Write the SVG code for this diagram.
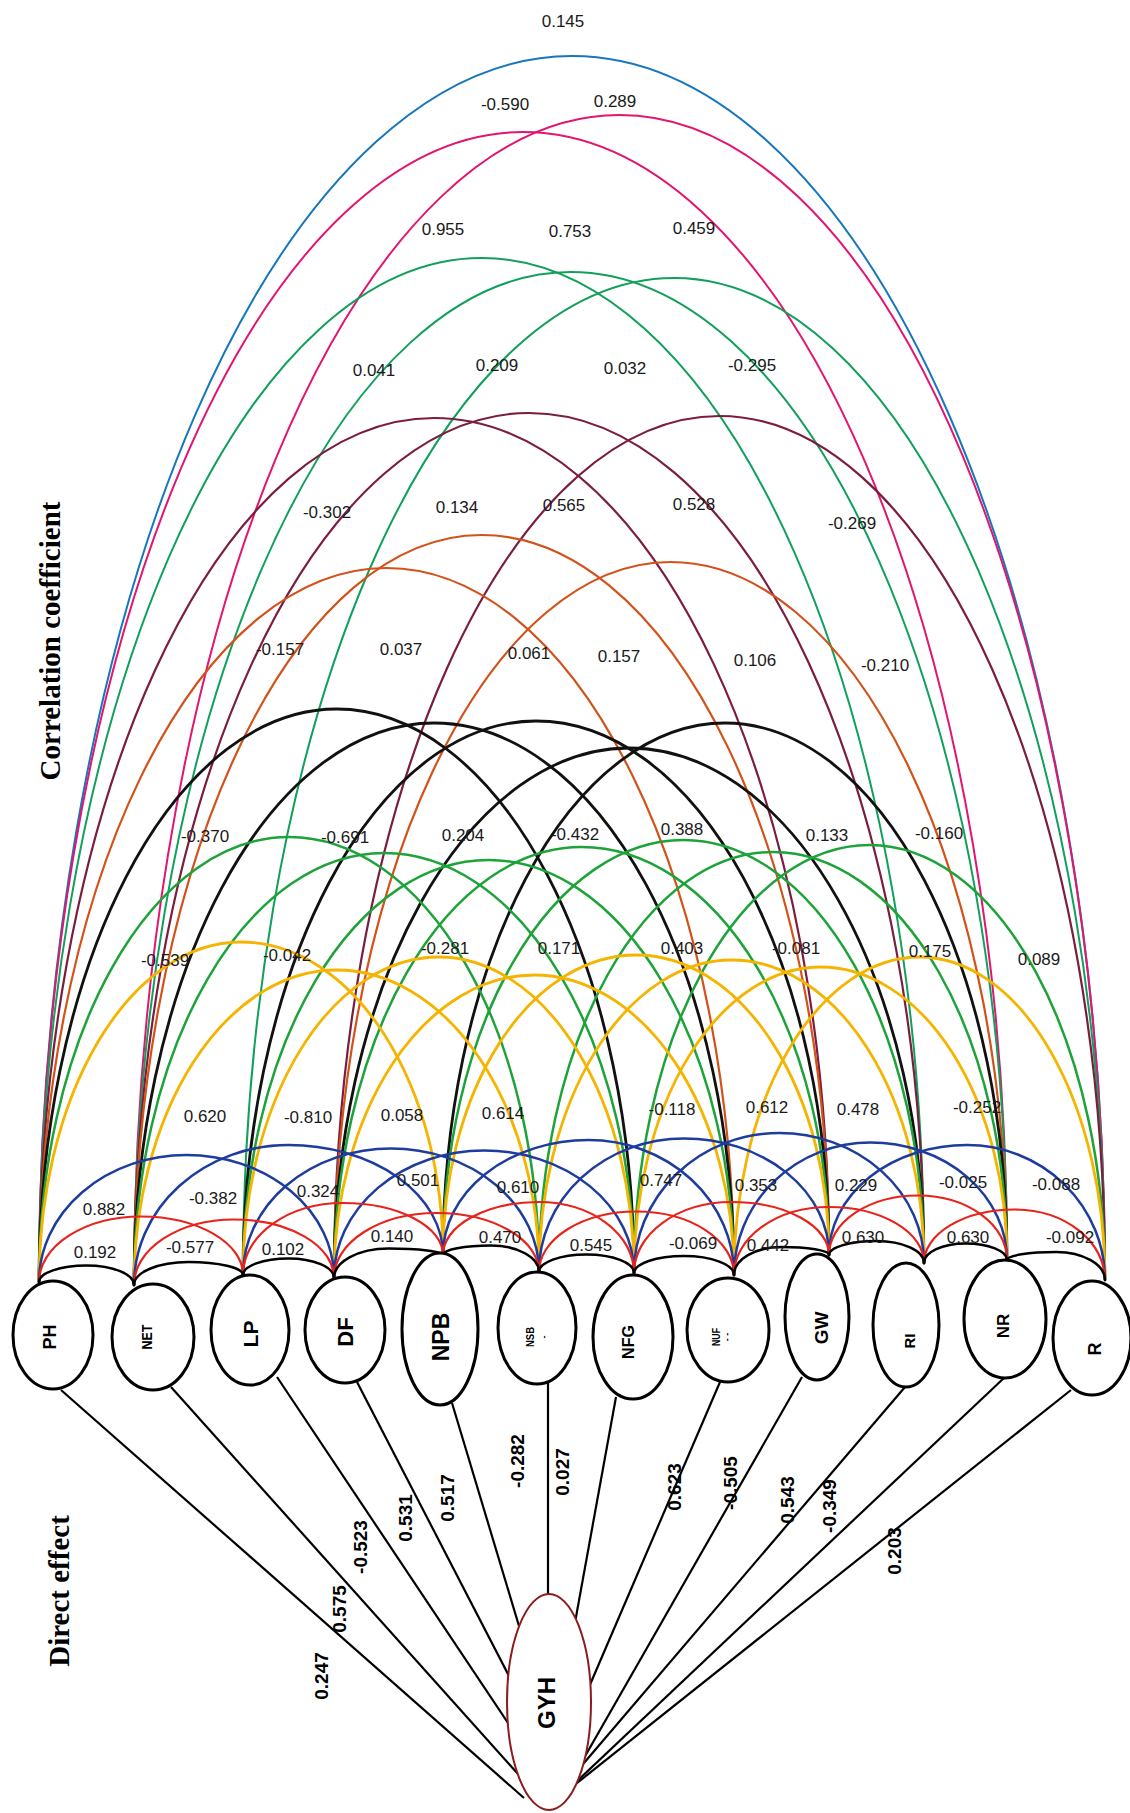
<svg xmlns="http://www.w3.org/2000/svg" width="1130" height="1813" viewBox="0 0 1130 1813">
  <style>
    .arc { fill: none; stroke-linecap: round; }
    .s1 { stroke: #000000; stroke-width: 2.5; }
    .s2 { stroke: #E8231B; stroke-width: 2.2; }
    .s3 { stroke: #1D3C9E; stroke-width: 2.5; }
    .s4 { stroke: #F4B400; stroke-width: 2.8; }
    .s5 { stroke: #1DA339; stroke-width: 2.5; }
    .s6 { stroke: #111111; stroke-width: 2.8; }
    .s7 { stroke: #D2521B; stroke-width: 2.2; }
    .s8 { stroke: #7B1E3E; stroke-width: 2.2; }
    .s9 { stroke: #11A05C; stroke-width: 2; }
    .s10 { stroke: #E2156F; stroke-width: 2; }
    .s11 { stroke: #1677BD; stroke-width: 2; }
    .direct { stroke: #000000; stroke-width: 2.2; fill: none; }
    .node { fill: #ffffff; stroke: #000000; stroke-width: 3; }
    .target { fill: #ffffff; stroke: #8B1C1C; stroke-width: 2; }
    .nl { font-family: "Liberation Sans", Arial, sans-serif; font-weight: bold; fill: #000; text-anchor: middle; dominant-baseline: central; }
    .cc { font-family: "Liberation Sans", Arial, sans-serif; font-size: 17px; fill: #1a1a1a; text-anchor: middle; dominant-baseline: central; }
    .de { font-family: "Liberation Sans", Arial, sans-serif; font-size: 19px; font-weight: bold; fill: #000; text-anchor: middle; dominant-baseline: central; }
    .axis { font-family: "Liberation Serif", "Times New Roman", serif; font-size: 29px; font-weight: bold; fill: #000; text-anchor: middle; dominant-baseline: central; }
  </style>

  <!-- correlation arcs between traits, grouped by distance between nodes -->
  <g id="connectors">
    <g id="arcs-span11" class="arc s11">
      <path d="M39 1282A533 1226 0 0 1 572 56A533 1224 0 0 1 1105 1280"/>
    </g>
    <g id="arcs-span10" class="arc s10">
      <path d="M39 1282A484 1150 0 0 1 523 132A484 1128 0 0 1 1007 1260"/>
      <path d="M134 1285A485.5 1170 0 0 1 619.5 115A485.5 1165 0 0 1 1105 1280"/>
    </g>
    <g id="arcs-span9" class="arc s9">
      <path d="M39 1282A442.5 1024 0 0 1 481.5 258A442.5 1005 0 0 1 924 1263"/>
      <path d="M134 1285A436.5 1013 0 0 1 570.5 272A436.5 988 0 0 1 1007 1260"/>
      <path d="M243 1275A431 997 0 0 1 674 278A431 1002 0 0 1 1105 1280"/>
    </g>
    <g id="arcs-span8" class="arc s8">
      <path d="M39 1282A395 864 0 0 1 434 418A395 837 0 0 1 829 1255"/>
      <path d="M134 1285A395 872 0 0 1 529 413A395 850 0 0 1 924 1263"/>
      <path d="M334 1278A385.5 862 0 0 1 719.5 416A385.5 864 0 0 1 1105 1280"/>
    </g>
    <g id="arcs-span7" class="arc s7">
      <path d="M39 1282A347.5 714 0 0 1 386.5 568A347.5 707 0 0 1 734 1275"/>
      <path d="M134 1285A347.5 750 0 0 1 481.5 535A347.5 720 0 0 1 829 1255"/>
      <path d="M334 1278A336.5 716 0 0 1 670.5 562A336.5 698 0 0 1 1007 1260"/>
    </g>
    <g id="arcs-span6" class="arc s6">
      <path d="M39 1282A297.5 573 0 0 1 336.5 709A297.5 564 0 0 1 634 1273"/>
      <path d="M134 1285A300 562 0 0 1 434 723A300 552 0 0 1 734 1275"/>
      <path d="M243 1275A293 554 0 0 1 536 721A293 534 0 0 1 829 1255"/>
      <path d="M334 1278A295 530 0 0 1 629 748A295 515 0 0 1 924 1263"/>
      <path d="M443 1255A282 532 0 0 1 725 723A282 537 0 0 1 1007 1260"/>
    </g>
    <g id="arcs-span5" class="arc s5">
      <path d="M39 1282A250 445 0 0 1 289 837A250 435 0 0 1 539 1272"/>
      <path d="M134 1285A250 432 0 0 1 384 853A250 420 0 0 1 634 1273"/>
      <path d="M243 1275A245.5 415 0 0 1 488.5 860A245.5 415 0 0 1 734 1275"/>
      <path d="M334 1278A247.5 431 0 0 1 581.5 847A247.5 408 0 0 1 829 1255"/>
      <path d="M443 1255A240.5 415 0 0 1 683.5 840A240.5 423 0 0 1 924 1263"/>
      <path d="M539 1272A234 420 0 0 1 773 852A234 408 0 0 1 1007 1260"/>
      <path d="M634 1273A235.5 428 0 0 1 869.5 845A235.5 435 0 0 1 1105 1280"/>
    </g>
    <g id="arcs-span4" class="arc s4">
      <path d="M39 1282A202 340 0 0 1 241 942A202 313 0 0 1 443 1255"/>
      <path d="M134 1285A202.5 315 0 0 1 336.5 970A202.5 302 0 0 1 539 1272"/>
      <path d="M243 1275A195.5 318 0 0 1 438.5 957A195.5 316 0 0 1 634 1273"/>
      <path d="M334 1278A200 303 0 0 1 534 975A200 300 0 0 1 734 1275"/>
      <path d="M443 1255A193 300 0 0 1 636 955A193 300 0 0 1 829 1255"/>
      <path d="M539 1272A192.5 312 0 0 1 731.5 960A192.5 303 0 0 1 924 1263"/>
      <path d="M634 1273A186.5 306 0 0 1 820.5 967A186.5 293 0 0 1 1007 1260"/>
      <path d="M734 1275A185.5 318 0 0 1 919.5 957A185.5 323 0 0 1 1105 1280"/>
    </g>
    <g id="arcs-span3" class="arc s3">
      <path d="M39 1282A147.5 127 0 0 1 186.5 1155A147.5 123 0 0 1 334 1278"/>
      <path d="M134 1285A154.5 140 0 0 1 288.5 1145A154.5 110 0 0 1 443 1255"/>
      <path d="M243 1275A148 126.5 0 0 1 391 1148.5A148 123.5 0 0 1 539 1272"/>
      <path d="M334 1278A150 127.5 0 0 1 484 1150.5A150 122.5 0 0 1 634 1273"/>
      <path d="M443 1255A145.5 115 0 0 1 588.5 1140A145.5 135 0 0 1 734 1275"/>
      <path d="M539 1272A145 133.5 0 0 1 684 1138.5A145 116.5 0 0 1 829 1255"/>
      <path d="M634 1273A145 140 0 0 1 779 1133A145 130 0 0 1 924 1263"/>
      <path d="M734 1275A136.5 132.5 0 0 1 870.5 1142.5A136.5 117.5 0 0 1 1007 1260"/>
      <path d="M829 1255A138 110 0 0 1 967 1145A138 135 0 0 1 1105 1280"/>
    </g>
    <g id="arcs-span2" class="arc s2">
      <path d="M39 1282A102 65.5 0 0 1 141 1216.5A102 58.5 0 0 1 243 1275"/>
      <path d="M134 1285A100 65.5 0 0 1 234 1219.5A100 58.5 0 0 1 334 1278"/>
      <path d="M243 1275A100 72 0 0 1 343 1203A100 52 0 0 1 443 1255"/>
      <path d="M334 1278A102.5 65 0 0 1 436.5 1213A102.5 59 0 0 1 539 1272"/>
      <path d="M443 1255A95.5 53 0 0 1 538.5 1202A95.5 71 0 0 1 634 1273"/>
      <path d="M539 1272A97.5 60.5 0 0 1 636.5 1211.5A97.5 63.5 0 0 1 734 1275"/>
      <path d="M634 1273A97.5 71 0 0 1 731.5 1202A97.5 53 0 0 1 829 1255"/>
      <path d="M734 1275A95 68 0 0 1 829 1207A95 56 0 0 1 924 1263"/>
      <path d="M829 1255A89 59.5 0 0 1 918 1195.5A89 64.5 0 0 1 1007 1260"/>
      <path d="M924 1263A90.5 53.5 0 0 1 1014.5 1209.5A90.5 70.5 0 0 1 1105 1280"/>
    </g>
    <g id="arcs-span1" class="arc s1">
      <path d="M39 1282A47.5 16.5 0 0 1 86.5 1265.5A47.5 19.5 0 0 1 134 1285"/>
      <path d="M134 1285A54.5 23 0 0 1 188.5 1262A54.5 13 0 0 1 243 1275"/>
      <path d="M243 1275A45.5 16.5 0 0 1 288.5 1258.5A45.5 19.5 0 0 1 334 1278"/>
      <path d="M334 1278A54.5 29.5 0 0 1 388.5 1248.5A54.5 6.5 0 0 1 443 1255"/>
      <path d="M443 1255A48 9.5 0 0 1 491 1245.5A48 26.5 0 0 1 539 1272"/>
      <path d="M539 1272A47.5 17.5 0 0 1 586.5 1254.5A47.5 18.5 0 0 1 634 1273"/>
      <path d="M634 1273A50 17 0 0 1 684 1256A50 19 0 0 1 734 1275"/>
      <path d="M734 1275A47.5 28 0 0 1 781.5 1247A47.5 8 0 0 1 829 1255"/>
      <path d="M829 1255A47.5 14 0 0 1 876.5 1241A47.5 22 0 0 1 924 1263"/>
      <path d="M924 1263A41.5 19.5 0 0 1 965.5 1243.5A41.5 16.5 0 0 1 1007 1260"/>
      <path d="M1007 1260A49 8 0 0 1 1056 1252A49 28 0 0 1 1105 1280"/>
    </g>
    <!-- direct paths from each trait to grain yield (ends tucked under the GYH ellipse) -->
    <g id="direct-paths" class="direct">
      <line x1="61" y1="1390" x2="524" y2="1798"/>
      <line x1="171" y1="1387" x2="518" y2="1774"/>
      <line x1="277" y1="1377" x2="510" y2="1726"/>
      <line x1="357" y1="1382" x2="510" y2="1678"/>
      <line x1="452" y1="1403" x2="519" y2="1626"/>
      <line x1="548" y1="1383" x2="548" y2="1600"/>
      <line x1="616" y1="1397" x2="574" y2="1628"/>
      <line x1="720" y1="1382" x2="586" y2="1694"/>
      <line x1="802" y1="1377" x2="584" y2="1758"/>
      <line x1="905" y1="1387" x2="578" y2="1770"/>
      <line x1="1004" y1="1378" x2="574" y2="1784"/>
      <line x1="1071" y1="1390" x2="572" y2="1787"/>
    </g>
  </g>

  <!-- correlation coefficient values, one row per arc level -->
  <g id="correlation-labels" class="cc">
    <text x="563" y="21">0.145</text>
    <text x="505" y="104">-0.590</text>
    <text x="615" y="101">0.289</text>
    <text x="443" y="229">0.955</text>
    <text x="570" y="231">0.753</text>
    <text x="694" y="228">0.459</text>
    <text x="374" y="370">0.041</text>
    <text x="497" y="365">0.209</text>
    <text x="625" y="368">0.032</text>
    <text x="752" y="365">-0.295</text>
    <text x="327" y="512">-0.302</text>
    <text x="457" y="507">0.134</text>
    <text x="564" y="505">0.565</text>
    <text x="694" y="504">0.528</text>
    <text x="852" y="523">-0.269</text>
    <text x="280" y="649">-0.157</text>
    <text x="401" y="649">0.037</text>
    <text x="529" y="653">0.061</text>
    <text x="619" y="656">0.157</text>
    <text x="755" y="660">0.106</text>
    <text x="885" y="665">-0.210</text>
    <text x="205" y="836">-0.370</text>
    <text x="345" y="837">-0.691</text>
    <text x="463" y="835">0.204</text>
    <text x="575" y="834">-0.432</text>
    <text x="682" y="829">0.388</text>
    <text x="827" y="835">0.133</text>
    <text x="939" y="833">-0.160</text>
    <text x="165" y="960">-0.539</text>
    <text x="287" y="955">-0.042</text>
    <text x="445" y="948">-0.281</text>
    <text x="559" y="948">0.171</text>
    <text x="682" y="948">0.403</text>
    <text x="796" y="948">-0.081</text>
    <text x="930" y="951">0.175</text>
    <text x="1039" y="959">0.089</text>
    <text x="205" y="1116">0.620</text>
    <text x="308" y="1117">-0.810</text>
    <text x="402" y="1115">0.058</text>
    <text x="503" y="1113">0.614</text>
    <text x="672" y="1109">-0.118</text>
    <text x="767" y="1107">0.612</text>
    <text x="858" y="1109">0.478</text>
    <text x="977" y="1107">-0.252</text>
    <text x="104" y="1209">0.882</text>
    <text x="213" y="1198">-0.382</text>
    <text x="318" y="1191">0.324</text>
    <text x="418" y="1180">0.501</text>
    <text x="518" y="1187">0.610</text>
    <text x="661" y="1180">0.747</text>
    <text x="756" y="1185">0.353</text>
    <text x="856" y="1185">0.229</text>
    <text x="963" y="1182">-0.025</text>
    <text x="1056" y="1184">-0.088</text>
    <text x="95" y="1252">0.192</text>
    <text x="190" y="1247">-0.577</text>
    <text x="283" y="1249">0.102</text>
    <text x="392" y="1236">0.140</text>
    <text x="500" y="1237">0.470</text>
    <text x="591" y="1245">0.545</text>
    <text x="693" y="1243">-0.069</text>
    <text x="768" y="1245">0.442</text>
    <text x="863" y="1237">0.630</text>
    <text x="968" y="1237">0.630</text>
    <text x="1070" y="1237">-0.092</text>
  </g>

  <!-- direct effect values along the paths to GYH -->
  <g id="direct-labels" class="de">
    <text transform="translate(321 1676) rotate(-90)">0.247</text>
    <text transform="translate(339 1609) rotate(-90)">0.575</text>
    <text transform="translate(360 1547) rotate(-90)">-0.523</text>
    <text transform="translate(405 1518) rotate(-90)">0.531</text>
    <text transform="translate(447 1498) rotate(-90)">0.517</text>
    <text transform="translate(517 1461) rotate(-90)">-0.282</text>
    <text transform="translate(562 1472) rotate(-90)">0.027</text>
    <text transform="translate(674 1487) rotate(-90)">0.623</text>
    <text transform="translate(730 1483) rotate(-90)">-0.505</text>
    <text transform="translate(787 1500) rotate(-90)">0.543</text>
    <text transform="translate(829 1506) rotate(-90)">-0.349</text>
    <text transform="translate(894 1551) rotate(-90)">0.203</text>
  </g>

  <!-- trait nodes -->
  <g id="node-PH"><ellipse class="node" cx="53" cy="1335" rx="40" ry="54"/><text class="nl" font-size="18" transform="translate(50 1337) rotate(-90)">PH</text></g>
  <g id="node-NET"><ellipse class="node" cx="153" cy="1337" rx="41" ry="53"/><text class="nl" font-size="15" textLength="25" lengthAdjust="spacingAndGlyphs" transform="translate(146 1337) rotate(-90)">NET</text></g>
  <g id="node-LP"><ellipse class="node" cx="250" cy="1330" rx="39" ry="55"/><text class="nl" font-size="21" transform="translate(250 1334) rotate(-90)">LP</text></g>
  <g id="node-DF"><ellipse class="node" cx="345" cy="1330" rx="40" ry="53"/><text class="nl" font-size="22" transform="translate(345 1332) rotate(-90)">DF</text></g>
  <g id="node-NPB"><ellipse class="node" cx="440" cy="1329" rx="38" ry="76"/><text class="nl" font-size="23" transform="translate(441 1337) rotate(-90)">NPB</text></g>
  <g id="node-NSB"><ellipse class="node" cx="537" cy="1328" rx="39" ry="56"/><text class="nl" font-size="11" textLength="20" lengthAdjust="spacingAndGlyphs" transform="translate(530 1337) rotate(-90)">NSB</text><text class="nl" font-size="9" transform="translate(544 1337) rotate(-90)">-</text></g>
  <g id="node-NFG"><ellipse class="node" cx="633" cy="1337" rx="40" ry="62"/><text class="nl" font-size="16" transform="translate(628 1342) rotate(-90)">NFG</text></g>
  <g id="node-NUF"><ellipse class="node" cx="728" cy="1330" rx="41" ry="52"/><text class="nl" font-size="11" textLength="18" lengthAdjust="spacingAndGlyphs" transform="translate(716 1337) rotate(-90)">NUF</text><text class="nl" font-size="9" transform="translate(727 1337) rotate(-90)">- -</text></g>
  <g id="node-GW"><ellipse class="node" cx="817" cy="1317" rx="32" ry="63"/><text class="nl" font-size="19" transform="translate(821 1328) rotate(-90)">GW</text></g>
  <g id="node-RI"><ellipse class="node" cx="906" cy="1325" rx="33" ry="62"/><text class="nl" font-size="15" transform="translate(909 1341) rotate(-90)">RI</text></g>
  <g id="node-NR"><ellipse class="node" cx="1005" cy="1319" rx="41" ry="59"/><text class="nl" font-size="17" transform="translate(1003 1326) rotate(-90)">NR</text></g>
  <g id="node-R"><ellipse class="node" cx="1092" cy="1338" rx="39" ry="57"/><text class="nl" font-size="18" font-weight="normal" transform="translate(1095 1349) rotate(-90)">R</text></g>

  <!-- grain yield node -->
  <g id="node-GYH"><ellipse class="target" cx="549" cy="1702" rx="42" ry="108"/><text class="nl" font-size="24" transform="translate(546 1703) rotate(-90)">GYH</text></g>

  <!-- side captions -->
  <text class="axis" transform="translate(50 641) rotate(-90)">Correlation coefficient</text>
  <text class="axis" transform="translate(59 1591) rotate(-90)">Direct effect</text>
</svg>
